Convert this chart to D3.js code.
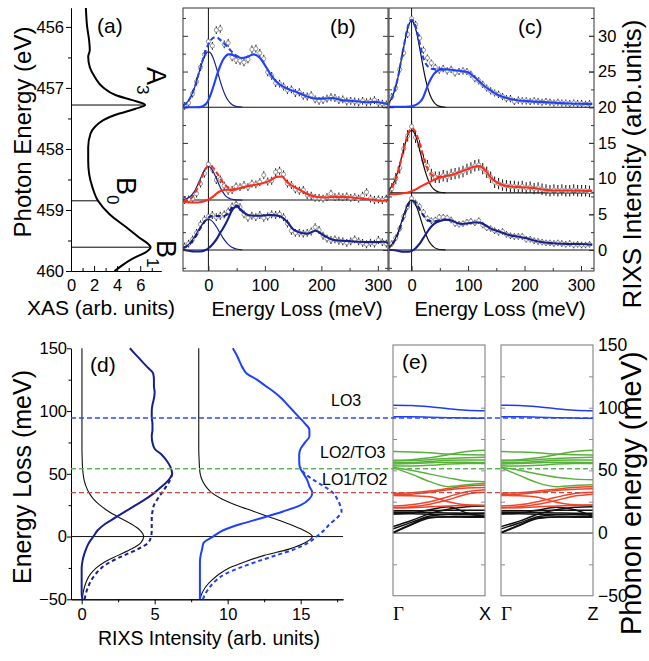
<!DOCTYPE html>
<html><head><meta charset="utf-8">
<script src="https://cdn.jsdelivr.net/npm/d3@7/dist/d3.min.js"></script>
<style>
html,body{margin:0;padding:0;background:#fff}
svg{display:block}
</style></head><body>
<svg id="fig" width="649" height="661" xmlns="http://www.w3.org/2000/svg"></svg>
<script>
// ================= DATA =================
// (a) XAS
const xasEnergy = [455.69,456.0,456.22,456.38,456.49,456.66,456.82,456.99,457.12,457.2,457.28,457.34,457.42,457.53,457.64,457.75,457.97,458.19,458.41,458.63,458.85,459.07,459.28,459.45,459.56,459.61,459.69,459.8,459.94,460.0];
const xasIntensity = [1.29,1.4,1.57,1.63,1.49,1.63,2.06,2.77,3.9,5.3,6.43,5.6,4.2,2.77,2.06,1.69,1.49,1.49,1.57,1.86,2.34,3.34,4.77,5.9,6.7,6.9,6.5,5.3,4.2,3.77];
const xasMarkEnergy = [457.28, 458.85, 459.61];
const xasMarkLetter = ["A","B","B"];
const xasMarkSub = ["3","0","1"];
const xasTicksY = [456,457,458,459,460];
const xasMinorY = [456.5,457.5,458.5,459.5];
const xasTicksX = [0,2,4,6];
const xasMinorX = [1,3,5,7];

// (b),(c) RIXS spectra
const fitEnergy = [-45,-35,-25,-15,-5,0,5,10,15,20,25,30,35,40,45,50,60,70,80,90,100,110,120,130,140,150,160,175,190,205,220,235,250,265,280,295,310,320];
const dataEnergy = [-42,-35,-28,-21,-14,-7,0,7,14,21,28,35,42,49,56,63,70,77,84,91,98,105,112,119,126,133,140,147,154,161,168,175,182,189,196,203,210,217,224,231,238,245,252,259,266,273,280,287,294,301,308,315];
const offsetsB = [20, 7, 0];
const offsetsC = [20, 8, 0];
const errB = [0.55, 0.55, 0.55];
const errC = [0.5, 0.8, 0.45];

const bTopInel = [0,0,0,0.02,0.4,1.0,2.0,3.2,4.5,5.6,6.5,7.1,7.4,7.4,7.25,7.1,6.9,7.1,7.4,7.0,5.9,4.6,3.6,3.0,2.6,2.3,2.0,1.5,1.2,1.2,1.3,1.0,0.9,0.8,0.7,0.75,0.55,0.4];
const bTopEl = [0.23,0.94,2.64,5.29,7.47,7.8,7.47,6.56,5.29,3.9,2.64,1.65,0.94,0.49,0.23,0.1,0.02];
const bTopData = [0.2,0.6,1.9,3.6,5.6,7.4,9.2,8.6,10.8,11.0,8.8,9.0,7.0,6.6,6.5,6.3,6.7,8.1,8.2,7.6,6.8,4.9,4.4,3.4,3.3,2.9,2.4,2.5,2.0,2.1,1.6,1.5,1.7,1.1,0.9,1.0,1.2,1.4,1.3,1.0,1.1,0.8,0.9,0.8,0.7,0.9,0.7,0.8,1.0,0.6,0.5,0.4];

const bMidInel = [-0.15,-0.3,-0.35,-0.3,-0.1,0.05,0.3,0.6,0.95,1.2,1.35,1.45,1.45,1.4,1.45,1.55,1.75,1.95,2.1,2.25,2.45,2.75,3.25,3.3,2.45,1.9,1.5,0.85,0.45,0.35,0.45,0.45,0.4,0.25,0.15,0.0,-0.1,0.1];
const bMidEl = [0.05,0.31,1.17,2.85,4.45,4.7,4.45,3.76,2.85,1.93,1.17,0.63,0.31,0.14,0.05,0.02,0];
const bMidData = [0.0,0.1,0.2,0.9,2.3,3.7,5.0,4.3,2.8,2.9,2.0,1.3,1.4,1.9,1.8,2.1,1.8,2.3,2.2,2.5,3.5,2.6,2.7,3.9,4.1,3.6,2.3,2.1,1.5,1.3,1.4,0.7,0.6,0.3,0.3,0.2,0.4,0.9,0.4,0.5,0.4,0.5,0.3,0.4,0.2,0.6,1.1,0.2,0.0,0.1,0.0,0.2];

const bBotInel = [0.05,-0.1,-0.2,-0.2,0.0,0.25,0.6,1.05,1.6,2.3,2.9,3.6,4.4,5.3,5.9,6.1,5.4,4.9,4.8,4.8,4.85,4.9,4.85,4.6,3.9,2.9,2.5,2.3,2.7,2.0,1.45,1.3,1.25,1.15,1.1,1.1,1.15,0.9];
const bBotEl = [0.26,0.79,1.81,3.15,4.15,4.3,4.15,3.74,3.15,2.47,1.81,1.24,0.79,0.47,0.26,0.14,0.03];
const bBotData = [0.5,0.9,1.5,2.4,3.6,4.3,4.7,4.9,4.6,4.8,5.0,5.4,6.1,6.4,6.0,5.0,4.5,4.8,4.6,4.9,4.5,4.7,5.0,4.9,5.0,4.6,3.7,2.7,2.4,2.4,2.3,2.4,2.6,3.2,2.8,2.0,1.6,1.4,1.5,1.3,1.2,1.0,1.2,1.5,1.2,1.0,0.8,1.0,0.9,1.4,1.1,0.9];

const cTopInel = [0.05,0.05,0.05,0.05,0.1,0.15,0.25,0.45,0.75,1.3,2.3,3.3,4.1,4.7,5.05,5.25,5.3,5.25,5.15,5.05,4.9,4.3,3.6,2.9,2.35,1.85,1.5,1.15,0.95,0.85,0.78,0.72,0.65,0.58,0.52,0.48,0.47,0.47];
const cTopEl = [0.29,1.28,3.84,8.0,11.56,12.1,11.56,10.07,8.0,5.81,3.84,2.32,1.28,0.64,0.29,0.12,0];
const cTopData = [0.6,1.5,2.7,5.3,7.6,10.2,12.4,11.6,9.7,8.0,6.9,6.2,5.6,5.2,5.4,5.1,5.3,4.8,5.0,5.1,5.0,4.6,4.0,3.7,3.2,2.7,2.3,2.0,1.8,1.5,1.2,1.2,0.8,1.0,0.9,0.9,0.8,0.9,0.8,0.7,0.8,0.7,0.6,0.7,0.6,0.6,0.5,0.6,0.5,0.5,0.4,0.5];

const cMidInel = [-0.25,-0.2,-0.15,-0.05,0.1,0.25,0.4,0.6,0.85,1.05,1.25,1.45,1.65,1.85,2.0,2.15,2.35,2.5,2.75,3.05,3.35,3.65,3.75,3.2,2.2,1.5,1.15,0.9,0.82,0.75,0.65,0.45,0.33,0.33,0.34,0.32,0.28,0.28];
const cMidEl = [0.21,0.93,2.8,5.83,8.4,8.8,8.4,7.32,5.83,4.22,2.8,1.69,0.93,0.47,0.21,0.09,0.01];
const cMidData = [0.2,0.6,2.0,3.5,6.2,8.0,9.3,7.8,6.6,4.6,3.8,2.6,2.2,2.2,2.4,2.3,2.6,2.7,2.8,3.0,3.3,3.5,3.8,3.9,3.4,2.9,2.2,1.5,1.3,1.1,1.0,0.9,0.9,0.8,0.9,0.7,0.8,0.6,0.7,0.5,0.4,0.3,0.4,0.3,0.4,0.3,0.3,0.4,0.3,0.3,0.3,0.2];

const cBotInel = [0.05,0.0,-0.1,-0.25,-0.25,-0.15,0.1,0.5,0.95,1.6,2.2,2.8,3.3,3.65,3.9,4.05,4.25,4.15,3.8,3.65,3.75,3.85,3.85,3.5,3.0,2.7,2.45,2.05,1.85,1.6,1.25,1.05,0.95,0.88,0.84,0.84,0.8,0.75];
const cBotEl = [0.17,0.74,2.23,4.63,6.69,7.0,6.69,5.82,4.63,3.36,2.23,1.34,0.74,0.37,0.17,0.07,0.01];
const cBotData = [0.4,0.9,1.7,3.0,4.7,6.1,7.2,6.6,6.1,5.3,4.4,4.1,4.2,4.6,4.6,4.5,4.2,3.7,3.6,3.7,3.9,4.0,3.8,4.1,3.5,3.1,3.0,2.7,2.5,2.6,2.2,2.0,1.9,1.9,1.9,1.5,1.5,1.3,1.2,1.1,1.0,1.0,0.9,1.0,0.9,0.8,0.9,0.7,0.8,0.7,0.7,0.8];

const lossTicks = [0,100,200,300];
const lossMinor = [50,150,250];
const rixsTicks = [0,5,10,15,20,25,30];
const rixsMinor = [-2.5,2.5,7.5,12.5,17.5,22.5,27.5,32.5];

// (d) energy-loss profiles (x = intensity, y = energy loss)
const dEnergy = [-50,-45,-40,-35,-30,-25,-20,-15,-10,-5,0,5,10,15,20,25,30,35,40,45,50,55,60,65,70,75,80,85,90,95,100,105,110,115,120,125,130,135,140,145,150];
const dBlackLeft = [0.05,0.1,0.2,0.35,0.6,1.0,1.6,2.5,3.4,4.05,4.25,4.0,3.4,2.6,1.85,1.25,0.8,0.5,0.3,0.17,0.1,0.06,0.04,0.03,0.02,0.02,0.02,0.02,0.02,0.02,0.02,0.02,0.02,0.02,0.02,0.02,0.02,0.02,0.02,0.02,0.02];
const dNavySolid = [0.05,0.0,0.0,0.0,0.0,0.0,0.05,0.15,0.3,0.5,0.8,1.1,1.6,2.3,3.0,3.7,4.4,5.0,5.5,5.95,6.2,6.1,5.85,5.5,5.0,4.85,4.8,4.85,4.85,4.8,4.8,4.85,4.95,5.0,4.95,4.95,4.9,4.5,4.1,3.7,3.3];
const dNavyDashed = [0.2,0.3,0.45,0.65,0.95,1.35,2.0,2.9,3.85,4.55,4.75,4.8,4.8,4.8,4.85,4.95,5.2,5.5,5.8,6.05,6.2];
const dBlackRight = [8.1,8.25,8.5,8.9,9.4,10.1,11.2,12.5,14.2,15.3,15.8,15.2,14.2,13.0,11.8,10.6,9.6,8.9,8.5,8.25,8.12,8.07,8.05,8.03,8.02,8.02,8.02,8.02,8.02,8.02,8.02,8.02,8.02,8.02,8.02,8.02,8.02,8.02,8.02,8.02,8.02];
const dBlueSolid = [8.1,8.1,8.1,8.1,8.1,8.1,8.1,8.15,8.25,8.35,9.0,9.7,10.9,12.4,13.8,15.0,15.6,15.8,15.6,15.45,15.2,14.95,14.9,14.9,15.0,15.3,15.6,15.6,15.3,14.9,14.5,14.1,13.7,13.2,12.6,12.0,11.3,11.0,10.8,10.6,10.35];
const dBlueDashed = [8.3,8.5,8.8,9.2,9.8,10.8,12.0,13.3,14.6,15.5,16.1,16.6,17.0,17.5,17.8,17.7,17.5,17.2,16.6,15.9,15.3,15.0];
const dTicksY = [-50,0,50,100,150];
const dMinorY = [-25,25,75,125];
const dTicksX = [0,5,10,15];
const dMinorX = [2.5,7.5,12.5,17.5];
const modeEnergy = [94.5, 54, 35];
const modeNames = ["LO3","LO2/TO3","LO1/TO2"];

// (e) phonon dispersion
const phononQ = [0,0.2,0.4,0.6,0.8,1];
const gxBlue = [[102,101.8,100.8,99.2,98,97.6],[92.8,92.7,92.4,92,91.7,91.6]];
const gxGreen = [[65,64.7,64,63,62.5,62.2],[58,58.5,60,62.5,65,66],[57.5,57.8,58.5,59.5,60,60.5],[56,56.2,57,58,58.2,58.2],[55,55.5,56,56.5,56.5,56.3],[53.6,53.5,54,55,55.5,55.5],[52.5,50,47,44,41.5,41],[52,47,41,37,38.5,39.7]];
const gxRed = [[31.7,32.2,33.5,35.5,37.5,38.3],[30.5,31,32.5,34.5,36,36.4],[30,29.8,29,25,22.5,22],[21.6,22.5,25,29,33,34.6],[20.3,21,23,26.5,31,32.5],[20,20.2,21,21.5,22,22]];
const gxBlack = [[17.8,17.8,17.9,18.1,18.2,18.2],[16.6,16.5,16.3,16,15.8,15.7],[15.4,15.3,15,14.7,14.5,14.4],[0,6.5,12,13,13,13],[0.4,7,12.5,12.8,12.6,12.5],[3.3,8.5,13.5,15,15.5,15.7],[5.1,10,15.5,19,21,21.5],[15.2,16,18.5,21,16,13.2]];
const gzBlue = [[102,101.8,100.8,99.2,98,97.6],[92.8,92.7,92.4,92,91.7,91.6]];
const gzGreen = [[65,64.7,64,63,62.5,62.2],[58,58.5,60,62.5,65,66],[57.5,57.8,58.5,59.5,60,60.5],[56,56.2,57,58,58.2,58.2],[55,55.5,56,56.5,56.5,56.3],[53.6,53.5,54,55,55.5,55.5],[52.5,50,47,44.5,43,42.5],[52,46,40,37,38,38.5]];
const gzRed = [[31.7,32.2,33.5,35,36.5,37],[30.5,31,32.5,34,35,35.3],[30,29.8,28.5,24.5,22.5,22.3],[21.6,22.5,25,28.5,31.5,32.5],[20.3,21,23,26,29.5,31],[20,20.2,21,21.5,22,22.3]];
const gzBlack = [[17.8,17.8,17.9,18.1,18.2,18.2],[16.6,16.5,16.3,16,15.8,15.7],[15.4,15.3,15,14.7,14.5,14.4],[0,6,11.5,12.8,13,13],[0.4,6.5,12,12.8,12.6,12.5],[3.3,8,13,14.5,15,15.2],[5.1,9.5,15,18.5,20.5,21],[15.2,16,18.2,20.5,18.5,13.2]];
const eTicks = [-50,0,50,100,150];
const eAllTicks = [-25,0,25,50,75,100,125];
const pathLabels = [["Γ","X"],["Γ","Z"]];

// ================= DRAWING =================
const FONT = '"Liberation Sans", Arial, Helvetica, sans-serif';
const svg = d3.select("#fig").style("font-family", FONT);
const defs = svg.append("defs");
const NAVY = "#16208e", BLUE = "#1f40ff", RED = "#ff2b1c";

function text(x, y, s, size, anchor, rot) {
  const t = svg.append("text").attr("font-size", size).attr("fill", "#000").text(s);
  if (anchor) t.attr("text-anchor", anchor);
  if (rot != null) t.attr("transform", `translate(${x},${y}) rotate(${rot})`);
  else t.attr("x", x).attr("y", y);
  return t;
}
function styleAxis(g, col, fs) {
  g.attr("font-family", FONT).attr("font-size", fs || 16.5);
  g.selectAll("line").attr("stroke", col || "#000");
  g.selectAll("path").attr("stroke", col || "#000");
  g.selectAll("text").attr("fill", "#000");
  return g;
}

// ---------- (a) ----------
const xA = d3.scaleLinear().domain([0, 7.8]).range([71, 161]);
const yA = d3.scaleLinear().domain([455.69, 460]).range([8, 271]);
styleAxis(svg.append("g").attr("transform", "translate(71,0)")
  .call(d3.axisLeft(yA).tickValues(xasTicksY).tickSize(5).tickSizeOuter(0).tickPadding(2).tickFormat(d3.format("d"))));
styleAxis(svg.append("g").attr("transform", "translate(71,0)")
  .call(d3.axisLeft(yA).tickValues(xasMinorY).tickSize(3).tickSizeOuter(0).tickFormat("")));
styleAxis(svg.append("g").attr("transform", "translate(0,271)")
  .call(d3.axisBottom(xA).tickValues(xasTicksX).tickSizeInner(-5).tickSizeOuter(0).tickPadding(8)));
styleAxis(svg.append("g").attr("transform", "translate(0,271)")
  .call(d3.axisBottom(xA).tickValues(xasMinorX).tickSizeInner(-3).tickSizeOuter(0).tickFormat("")));
xasMarkEnergy.forEach((e) => {
  const v = xasIntensity[xasEnergy.indexOf(e)];
  svg.append("line").attr("x1", xA(0)).attr("x2", xA(v)).attr("y1", yA(e)).attr("y2", yA(e))
    .attr("stroke", "#000").attr("stroke-width", 1);
});
svg.append("path").datum(xasEnergy.map((e, i) => [e, xasIntensity[i]]))
  .attr("fill", "none").attr("stroke", "#000").attr("stroke-width", 2)
  .attr("d", d3.line().x(d => xA(d[1])).y(d => yA(d[0])).curve(d3.curveMonotoneY));
const markPos = [[147, 67], [117, 177], [157, 240]];
xasMarkEnergy.forEach((e, i) => {
  const t = svg.append("text").attr("font-size", 27)
    .attr("transform", `translate(${markPos[i][0]},${markPos[i][1]}) rotate(90)`).text(xasMarkLetter[i]);
  t.append("tspan").attr("font-size", 17).attr("dy", 10).text(xasMarkSub[i]);
});
text(97, 33, "(a)", 21);
text(31, 132, "Photon Energy (eV)", 24, "middle", -90);
text(101, 315, "XAS (arb. units)", 21, "middle");

// ---------- (b),(c) ----------
const ySp = d3.scaleLinear().domain([-2.94, 33.9]).range([271, 8]);
const xB = d3.scaleLinear().domain([-45, 318]).range([183, 388]);
const xC = d3.scaleLinear().domain([-40, 323]).range([389, 594]);

function spectraPanel(id, x, offsets, sets, errs, elCol) {
  const [x0, x1] = x.range();
  defs.append("clipPath").attr("id", id).append("rect")
    .attr("x", x0).attr("y", 8).attr("width", x1 - x0).attr("height", 263);
  const g = svg.append("g").attr("clip-path", `url(#${id})`);
  offsets.forEach(o => g.append("line").attr("x1", x0).attr("x2", x1)
    .attr("y1", ySp(o)).attr("y2", ySp(o)).attr("stroke", "#111").attr("stroke-width", 1.1));
  g.append("line").attr("x1", x(0)).attr("x2", x(0)).attr("y1", 8).attr("y2", 271)
    .attr("stroke", "#111").attr("stroke-width", 1);
  const line = d3.line().x(d => x(d[0])).y(d => ySp(d[1])).curve(d3.curveMonotoneX);
  sets.forEach((s, k) => {
    const o = offsets[k], er = errs[k];
    const pts = dataEnergy.map((e, i) => [e, s.data[i] + o]);
    g.append("g").selectAll("line").data(pts).join("line")
      .attr("x1", d => x(d[0])).attr("x2", d => x(d[0]))
      .attr("y1", d => ySp(d[1] - er)).attr("y2", d => ySp(d[1] + er))
      .attr("stroke", "#222").attr("stroke-width", 1.1);
    g.append("g").selectAll("circle").data(pts).join("circle")
      .attr("cx", d => x(d[0])).attr("cy", d => ySp(d[1])).attr("r", 2.1)
      .attr("fill", "#fff").attr("stroke", "#8a8a8a").attr("stroke-width", 0.9);
  });
  sets.forEach((s, k) => {
    const o = offsets[k];
    const el = s.el.map((v, i) => [fitEnergy[i], v + o]);
    const inel = s.inel.map((v, i) => [fitEnergy[i], v + o]);
    const tot = s.el.map((v, i) => [fitEnergy[i], v + s.inel[i] + o]);
    g.append("path").datum(el).attr("fill", "none").attr("stroke", elCol).attr("stroke-width", 1.2).attr("d", line);
    g.append("path").datum(inel).attr("fill", "none").attr("stroke", s.col).attr("stroke-width", 2.1).attr("d", line);
    g.append("path").datum(tot).attr("fill", "none").attr("stroke", s.col).attr("stroke-width", 2.1)
      .attr("stroke-dasharray", "5,3").attr("d", line);
  });
  svg.append("rect").attr("x", x0).attr("y", 8).attr("width", x1 - x0).attr("height", 263)
    .attr("fill", "none").attr("stroke", "#333").attr("stroke-width", 1);
  [[rixsTicks, 5], [rixsMinor, 3]].forEach(([tv, sz]) => {
    styleAxis(svg.append("g").attr("transform", `translate(${x0},0)`)
      .call(d3.axisRight(ySp).tickValues(tv).tickSize(sz).tickSizeOuter(0).tickFormat("")), "#333")
      .select(".domain").remove();
    styleAxis(svg.append("g").attr("transform", `translate(${x1},0)`)
      .call(d3.axisLeft(ySp).tickValues(tv).tickSize(sz).tickSizeOuter(0).tickFormat("")), "#333")
      .select(".domain").remove();
  });
  styleAxis(svg.append("g").attr("transform", "translate(0,271)")
    .call(d3.axisBottom(x).tickValues(lossTicks).tickSizeInner(-5).tickSizeOuter(0).tickPadding(8)), "#333")
    .select(".domain").remove();
  styleAxis(svg.append("g").attr("transform", "translate(0,271)")
    .call(d3.axisBottom(x).tickValues(lossMinor).tickSizeInner(-3).tickSizeOuter(0).tickFormat("")), "#333")
    .select(".domain").remove();
}
spectraPanel("clipB", xB, offsetsB, [
  {inel: bTopInel, el: bTopEl, data: bTopData, col: BLUE},
  {inel: bMidInel, el: bMidEl, data: bMidData, col: RED},
  {inel: bBotInel, el: bBotEl, data: bBotData, col: NAVY}], errB, NAVY);
spectraPanel("clipC", xC, offsetsC, [
  {inel: cTopInel, el: cTopEl, data: cTopData, col: BLUE},
  {inel: cMidInel, el: cMidEl, data: cMidData, col: RED},
  {inel: cBotInel, el: cBotEl, data: cBotData, col: NAVY}], errC, "#111");
// right-hand labels of (c)
styleAxis(svg.append("g").attr("transform", "translate(594,0)")
  .call(d3.axisRight(ySp).tickValues(rixsTicks).tickSizeInner(-5).tickSizeOuter(0).tickPadding(4)), "#333")
  .select(".domain").remove();
text(330, 34, "(b)", 21);
text(518, 34, "(c)", 21);
text(297, 316, "Energy Loss (meV)", 20, "middle");
text(500, 316, "Energy Loss (meV)", 20, "middle");
text(641, 164, "RIXS Intensity (arb.units)", 26, "middle", -90);

// ---------- (d) ----------
const xD = d3.scaleLinear().domain([-0.73, 17.9]).range([71, 343]);
const yD = d3.scaleLinear().domain([-50, 150]).range([599.3, 348.3]);
styleAxis(svg.append("g").attr("transform", "translate(71,0)")
  .call(d3.axisLeft(yD).tickValues(dTicksY).tickSize(4).tickSizeOuter(0).tickPadding(0)));
styleAxis(svg.append("g").attr("transform", "translate(71,0)")
  .call(d3.axisLeft(yD).tickValues(dMinorY).tickSize(2.5).tickSizeOuter(0).tickFormat("")));
styleAxis(svg.append("g").attr("transform", "translate(0,599.3)")
  .call(d3.axisBottom(xD).tickValues(dTicksX).tickSize(5).tickSizeOuter(0).tickPadding(4)));
styleAxis(svg.append("g").attr("transform", "translate(0,599.3)")
  .call(d3.axisBottom(xD).tickValues(dMinorX).tickSize(3).tickSizeOuter(0).tickFormat("")));
svg.append("line").attr("x1", 71).attr("x2", 343).attr("y1", yD(0)).attr("y2", yD(0))
  .attr("stroke", "#111").attr("stroke-width", 1);
const lineD = d3.line().x(d => xD(d[1])).y(d => yD(d[0])).curve(d3.curveMonotoneY);
function dPath(vals, col, w, dash) {
  const p = svg.append("path").datum(vals.map((v, i) => [dEnergy[i], v]))
    .attr("fill", "none").attr("stroke", col).attr("stroke-width", w).attr("d", lineD);
  if (dash) p.attr("stroke-dasharray", dash);
}
dPath(dBlackLeft, "#111", 1.1);
dPath(dBlackRight, "#111", 1.1);
dPath(dNavyDashed, NAVY, 2, "4,3");
dPath(dBlueDashed, BLUE, 2, "4,3");
dPath(dNavySolid, NAVY, 2);
dPath(dBlueSolid, BLUE, 2);
text(90, 372, "(d)", 21);
text(31, 477, "Energy Loss (meV)", 25, "middle", -90);
text(209, 645, "RIXS Intensity (arb. units)", 19.5, "middle");

// ---------- (e) ----------
const yE = d3.scaleLinear().domain([-50, 150]).range([595.7, 345]);
const framesE = [[393, 485], [501, 593]];
const branchSets = [[gxBlack, gxRed, gxGreen, gxBlue], [gzBlack, gzRed, gzGreen, gzBlue]];
const branchCols = ["#111", "#f0452a", "#58b13a", "#1f3cf5"];
framesE.forEach(([a, b], f) => {
  const xq = d3.scaleLinear().domain([0, 1]).range([a, b]);
  svg.append("line").attr("x1", a).attr("x2", b).attr("y1", yE(0)).attr("y2", yE(0))
    .attr("stroke", "#222").attr("stroke-width", 1);
  const ln = d3.line().x((d, i) => xq(phononQ[i])).y(d => yE(d)).curve(d3.curveMonotoneX);
  branchSets[f].forEach((set, c) => set.forEach(br => {
    svg.append("path").datum(br).attr("fill", "none").attr("stroke", branchCols[c])
      .attr("stroke-width", 1.5).attr("d", ln);
  }));
  svg.append("rect").attr("x", a).attr("y", 345).attr("width", b - a).attr("height", 250.7)
    .attr("fill", "none").attr("stroke", "#8c8c8c").attr("stroke-width", 1.2);
  styleAxis(svg.append("g").attr("transform", `translate(${a},0)`)
    .call(d3.axisRight(yE).tickValues(eAllTicks).tickSize(4).tickSizeOuter(0).tickFormat("")), "#8c8c8c")
    .select(".domain").remove();
  styleAxis(svg.append("g").attr("transform", `translate(${b},0)`)
    .call(d3.axisLeft(yE).tickValues(eAllTicks).tickSize(4).tickSizeOuter(0).tickFormat("")), "#8c8c8c")
    .select(".domain").remove();
  svg.append("text").attr("x", a).attr("y", 620).attr("font-size", 19)
    .attr("font-family", '"Liberation Serif", "Times New Roman", serif').text(pathLabels[f][0]);
  svg.append("text").attr("x", b).attr("y", 620).attr("font-size", 18).attr("text-anchor", "middle").text(pathLabels[f][1]);
});
styleAxis(svg.append("g").attr("transform", "translate(593,0)")
  .call(d3.axisRight(yE).tickValues(eTicks).tickSize(0).tickPadding(5)), "#8c8c8c", 17.5)
  .select(".domain").remove();
text(402, 369, "(e)", 21);
text(641, 635, "Phonon energy (meV)", 29, "start", -90);

// dashed mode lines across (d) and (e)
const modeCols = ["#2a4cff", "#5cb35c", "#c44a4a"];
modeEnergy.forEach((m, i) => {
  svg.append("line").attr("x1", 71).attr("x2", 593).attr("y1", yD(m)).attr("y2", yD(m))
    .attr("stroke", modeCols[i]).attr("stroke-width", 1.4).attr("stroke-dasharray", "5,3");
});
const modeLabelPos = [[331, 406], [320, 458], [322, 485]];
modeNames.forEach((n, i) => text(modeLabelPos[i][0], modeLabelPos[i][1], n, 16));
</script>
</body></html>
